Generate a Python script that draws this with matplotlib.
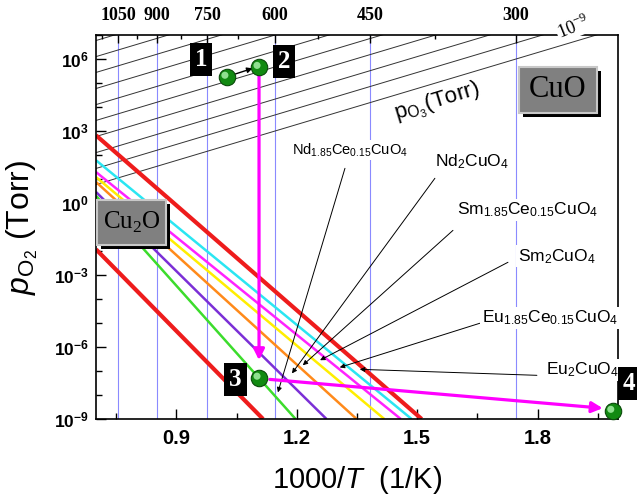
import matplotlib
matplotlib.use('Agg')
import matplotlib.pyplot as plt
from matplotlib.patches import Rectangle
from matplotlib.ticker import FixedLocator, NullFormatter
import matplotlib.transforms as mtransforms

plt.rcParams['font.family'] = ['Liberation Sans', 'DejaVu Sans']
plt.rcParams['mathtext.fontset'] = 'custom'
plt.rcParams['mathtext.rm'] = 'Liberation Sans'
plt.rcParams['mathtext.it'] = 'Liberation Sans:italic'
plt.rcParams['mathtext.bf'] = 'Liberation Sans:bold'

# ---- data ----
x_lo, x_hi = 0.7, 2.0
temps_major = [1050, 900, 750, 600, 450, 300]   # deg C, top axis
temps_minor = [1125, 975, 825, 675, 525, 375]

# ozone isobars: log10 pO2 at 1000/T = 0.7, common slope (decades per 1000/T)
isobar_logp_left = [0.77, 1.44, 2.10, 2.77, 3.44, 4.10, 4.77, 5.44, 6.10, 6.77]
isobar_slope = 5.0

# stability lines: log10 pO2 at left edge, 1000/T where they reach 1e-9 Torr
phase_logp_left = [2.82, 1.78, 1.29, 1.08, 0.875, 0.46, 0.30, -1.93]
phase_x_bottom = [1.511, 1.486, 1.459, 1.418, 1.349, 1.274, 1.197, 1.116]
phase_colors = ['#ee1c1c', '#2ae6f2', '#ff22ff', '#ffee00', '#ff8a1a', '#7b2fd6', '#3cdc2c', '#ee1c1c']
phase_widths = [3.0, 1.8, 1.8, 1.8, 1.8, 1.8, 1.8, 3.0]

compounds = [r'Nd$_{\mathregular{1.85}}$Ce$_{\mathregular{0.15}}$CuO$_{\mathregular{4}}$',
             r'Nd$_{\mathregular{2}}$CuO$_{\mathregular{4}}$',
             r'Sm$_{\mathregular{1.85}}$Ce$_{\mathregular{0.15}}$CuO$_{\mathregular{4}}$',
             r'Sm$_{\mathregular{2}}$CuO$_{\mathregular{4}}$',
             r'Eu$_{\mathregular{1.85}}$Ce$_{\mathregular{0.15}}$CuO$_{\mathregular{4}}$',
             r'Eu$_{\mathregular{2}}$CuO$_{\mathregular{4}}$']
label_pos = [(0.487, 0.700), (0.720, 0.669), (0.826, 0.544), (0.883, 0.424), (0.870, 0.263), (0.931, 0.128)]
label_size = [10.5, 12.5, 12.5, 12.5, 12.5, 12.5]
leader_start = [(1.320, 1.445), (1.544, 1.03), (1.589, -1.14), (1.726, -2.47), (1.656, -5.01), (1.798, -7.18)]
leader_tip = [(1.153, -7.89), (1.188, -7.10), (1.215, -6.76), (1.258, -6.55), (1.307, -6.85), (1.357, -6.93)]

# annealing route, states 1-4
route_x = [1.026, 1.106, 1.106, 1.987]
route_logp = [5.24, 5.65, -7.30, -8.68]
route_labels = ['1', '2', '3', '4']
route_label_pos = [(0.201, 0.935), (0.360, 0.931), (0.267, 0.104), (1.021, 0.092)]

fig = plt.figure(figsize=(6.37, 4.97), dpi=100)
ax = fig.add_axes([96 / 637, 1 - 419 / 497, 522 / 637, 384 / 497])
ax.set_yscale('log')
ax.set_xlim(x_lo, x_hi)
ax.set_ylim(1e-9, 1e7)

# temperature grid lines
for t in temps_major:
    ax.axvline(1000 / (t + 273), color='#8a8aff', lw=0.8, zorder=1)

# isobars
for a in isobar_logp_left:
    ax.plot([x_lo, x_hi], [10 ** a, 10 ** (a + isobar_slope * (x_hi - x_lo))],
            color='#333333', lw=0.7, zorder=1.5)

# stability lines
for a, xb, c, w in zip(phase_logp_left, phase_x_bottom, phase_colors, phase_widths):
    ax.plot([x_lo, xb], [10 ** a, 1e-9], color=c, lw=w, zorder=2, solid_capstyle='butt')

# leaders + labels
for lab, pos, fs, st, tp in zip(compounds, label_pos, label_size, leader_start, leader_tip):
    ax.annotate('', xy=(tp[0], 10 ** tp[1]), xytext=(st[0], 10 ** st[1]),
                arrowprops=dict(arrowstyle='-|>', color='k', lw=0.7, mutation_scale=7,
                                shrinkA=0, shrinkB=0), zorder=4)
    ax.text(pos[0], pos[1], lab, transform=ax.transAxes, fontsize=fs, ha='center', va='center',
            zorder=10, clip_on=False,
            bbox=dict(boxstyle='square,pad=0.1', fc='white', ec='none'))

# route arrows
ax.annotate('', xy=(1.090, 10 ** 5.61), xytext=(1.046, 10 ** 5.37),
            arrowprops=dict(arrowstyle='-|>', color='k', lw=1.0, mutation_scale=8,
                            shrinkA=0, shrinkB=0), zorder=6)
ax.annotate('', xy=(1.106, 10 ** -6.55), xytext=(1.106, 10 ** 5.40),
            arrowprops=dict(arrowstyle='-|>', color='#ff00ff', lw=2.3, mutation_scale=16,
                            shrinkA=0, shrinkB=0), zorder=6)
ax.annotate('', xy=(1.962, 10 ** -8.55), xytext=(1.133, 10 ** -7.35),
            arrowprops=dict(arrowstyle='-|>', color='#ff00ff', lw=2.3, mutation_scale=16,
                            shrinkA=0, shrinkB=0), zorder=6)

# green balls
ry = [10 ** v for v in route_logp]
ax.scatter(route_x, ry, s=140, color='#128a12', edgecolors='#0a4a0a', linewidths=0.8,
           zorder=8, clip_on=False)
hl = mtransforms.offset_copy(ax.transData, fig=fig, x=-2.0, y=2.0, units='dots')
ax.scatter(route_x, ry, s=26, color='#8fe08f', edgecolors='none', zorder=9, clip_on=False,
           transform=hl)

for lab, pos in zip(route_labels, route_label_pos):
    ax.text(pos[0], pos[1], lab, transform=ax.transAxes, fontsize=18, fontweight='bold',
            family='Liberation Serif', color='white', ha='center', va='center', zorder=10,
            clip_on=False, bbox=dict(boxstyle='square,pad=0.2', fc='black', ec='none'))

# phase boxes
def phase_box(x0, y0, w, h, text, fs):
    dx, dy = 4 / 522, 4 / 384
    ax.add_patch(Rectangle((x0 + dx, y0 - dy), w, h, transform=ax.transAxes,
                           fc='black', ec='none', zorder=11, clip_on=False))
    ax.add_patch(Rectangle((x0, y0), w, h, transform=ax.transAxes,
                           fc='#808080', ec='#c8c8c8', lw=1.5, zorder=12, clip_on=False))
    ax.text(x0 + w / 2, y0 + h / 2, text, transform=ax.transAxes, fontsize=fs, color='black',
            family='Liberation Serif', ha='center', va='center', zorder=13)

phase_box(0.810, 0.797, 0.150, 0.120, 'CuO', 22)
phase_box(0.002, 0.453, 0.132, 0.117, r'Cu$_{\mathregular{2}}$O', 18)

ax.text(0.653, 0.823, r'p$_{\mathregular{O_3}}$(Torr)', transform=ax.transAxes, fontsize=16,
        rotation=17, ha='center', va='center', zorder=5)
ax.text(0.914, 1.021, r'10$^{\mathregular{-9}}$', transform=ax.transAxes, fontsize=13,
        family='Liberation Serif', rotation=22, ha='center', va='center', zorder=10,
        clip_on=False, bbox=dict(boxstyle='square,pad=0.05', fc='white', ec='none'))

# axes styling
ax.set_xticks([0.9, 1.2, 1.5, 1.8])
ax.set_xticklabels(['0.9', '1.2', '1.5', '1.8'], fontsize=14.5, fontweight='bold')
ax.xaxis.set_minor_locator(FixedLocator([0.75, 1.05, 1.35, 1.65, 1.95]))
yt = [1e-9, 1e-6, 1e-3, 1e0, 1e3, 1e6]
ax.yaxis.set_major_locator(FixedLocator(yt))
ax.set_yticklabels([r'$\mathbf{10^{%d}}$' % e for e in [-9, -6, -3, 0, 3, 6]], fontsize=12.5)
ax.yaxis.set_minor_locator(FixedLocator([10.0 ** e for e in [-8, -7, -5, -4, -2, -1, 1, 2, 4, 5, 7]]))
ax.yaxis.set_minor_formatter(NullFormatter())
ax.tick_params(which='both', direction='in', top=False, right=False, width=1)
ax.tick_params(which='major', length=7)
ax.tick_params(which='minor', length=4)
ax.tick_params(axis='x', pad=7)
ax.tick_params(axis='y', pad=5)
for sp in ax.spines.values():
    sp.set_linewidth(1.2)

ax.set_xlabel(r'1000/$T$  (1/K)', fontsize=21, labelpad=12)
ax.set_ylabel(r'$p_{\mathrm{O_2}}$ (Torr)', fontsize=23, labelpad=10)

ax2 = ax.twiny()
ax2.set_xlim(x_lo, x_hi)
ax2.set_xticks([1000 / (t + 273) for t in temps_major])
ax2.set_xticklabels([str(t) for t in temps_major], fontsize=13, fontweight='bold',
                    family='Liberation Serif')
ax2.xaxis.set_minor_locator(FixedLocator([1000 / (t + 273) for t in temps_minor]))
ax2.tick_params(which='both', direction='in', width=1, pad=8)
ax2.tick_params(which='major', length=6)
ax2.tick_params(which='minor', length=3)
for sp in ax2.spines.values():
    sp.set_visible(False)

fig.savefig('out.png', dpi=100)
